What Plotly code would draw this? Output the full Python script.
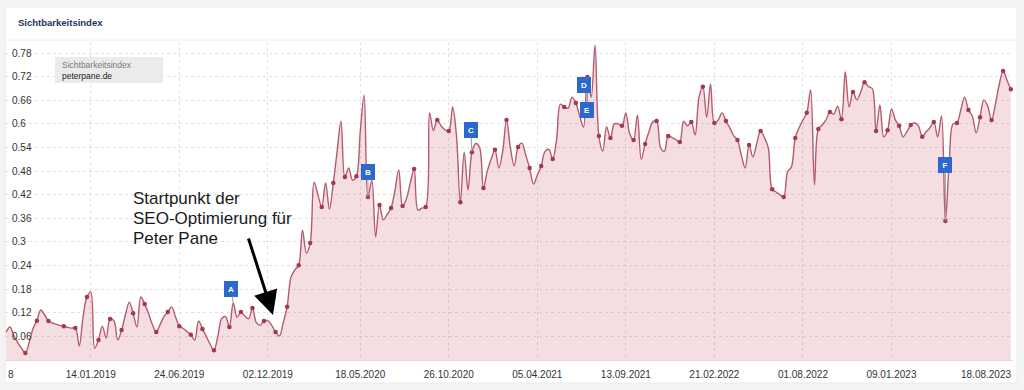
import plotly.graph_objects as go
import pandas as pd

# ---------------- data ----------------
START_DATE = "2018-08-13"          # weekly values start (Mondays)
X_RANGE = ["2018-08-11", "2023-08-18"]

VALUES = [
    0.071, 0.084, 0.062, 0.045, 0.030, 0.018, 0.045, 0.080, 0.100, 0.127,
    0.115, 0.099, 0.094, 0.091, 0.088, 0.086, 0.083, 0.081, 0.081, 0.036,
    0.110, 0.160, 0.173, 0.030, 0.051, 0.086, 0.056, 0.104, 0.100, 0.051,
    0.076, 0.115, 0.147, 0.119, 0.084, 0.160, 0.142, 0.118, 0.090, 0.071,
    0.090, 0.110, 0.122, 0.135, 0.110, 0.086, 0.080, 0.072, 0.064, 0.051,
    0.099, 0.079, 0.060, 0.040, 0.025, 0.060, 0.105, 0.110, 0.084, 0.145,
    0.109, 0.122, 0.112, 0.105, 0.132, 0.095, 0.088, 0.099, 0.100, 0.088,
    0.071, 0.061, 0.095, 0.135, 0.210, 0.229, 0.241, 0.330, 0.272, 0.297,
    0.452, 0.420, 0.389, 0.450, 0.383, 0.450, 0.530, 0.607, 0.465, 0.488,
    0.457, 0.467, 0.580, 0.673, 0.414, 0.457, 0.313, 0.394, 0.356, 0.370,
    0.386, 0.430, 0.483, 0.391, 0.410, 0.450, 0.485, 0.381, 0.386, 0.389,
    0.628, 0.583, 0.610, 0.595, 0.585, 0.582, 0.643, 0.570, 0.401, 0.528,
    0.432, 0.528, 0.550, 0.540, 0.437, 0.480, 0.510, 0.534, 0.488, 0.530,
    0.610, 0.540, 0.493, 0.541, 0.551, 0.520, 0.488, 0.447, 0.470, 0.493,
    0.530, 0.535, 0.511, 0.560, 0.650, 0.643, 0.640, 0.668, 0.653, 0.620,
    0.592, 0.719, 0.668, 0.800, 0.569, 0.531, 0.592, 0.564, 0.600, 0.600,
    0.595, 0.628, 0.575, 0.559, 0.622, 0.510, 0.549, 0.580, 0.605, 0.607,
    0.540, 0.530, 0.569, 0.565, 0.560, 0.554, 0.607, 0.595, 0.605, 0.572,
    0.668, 0.694, 0.617, 0.701, 0.602, 0.610, 0.628, 0.607, 0.590, 0.570,
    0.559, 0.520, 0.488, 0.546, 0.516, 0.550, 0.582, 0.565, 0.539, 0.434,
    0.427, 0.420, 0.414, 0.478, 0.490, 0.564, 0.590, 0.610, 0.628, 0.686,
    0.445, 0.587, 0.597, 0.610, 0.630, 0.625, 0.645, 0.612, 0.732, 0.643,
    0.681, 0.661, 0.680, 0.706, 0.695, 0.690, 0.582, 0.648, 0.567, 0.584,
    0.638, 0.610, 0.595, 0.567, 0.580, 0.597, 0.603, 0.595, 0.567, 0.580,
    0.590, 0.605, 0.567, 0.620, 0.353, 0.500, 0.600, 0.602, 0.635, 0.668,
    0.635, 0.620, 0.577, 0.617, 0.661, 0.645, 0.610, 0.650, 0.700, 0.734,
    0.711, 0.688,
]

DOT_IDX = [5, 8, 11, 15, 18, 21, 24, 27, 30, 33, 36, 39, 42, 45, 48, 51, 54,
           58, 61, 64, 67, 70, 73, 76, 79, 82, 85, 88, 91, 94, 97, 100, 103,
           106, 109, 112, 115, 118, 121, 124, 127, 130, 133, 136, 139, 142,
           145, 148, 151, 154, 157, 160, 163, 166, 169, 172, 175, 178, 181,
           184, 187, 190, 193, 196, 199, 202, 205, 208, 211, 214, 217, 220,
           223, 226, 229, 232, 235, 238, 241, 244, 247, 250, 253, 256, 259, 261]

EVENT_LABELS = ["A", "B", "C", "E", "D", "F"]
EVENT_IDX = [59, 94, 121, 151, 151, 244]

TICK_DATES = ["2019-01-14", "2019-06-24", "2019-12-02", "2020-05-18",
              "2020-10-26", "2021-04-05", "2021-09-13", "2022-02-21",
              "2022-08-01", "2023-01-09", "2023-08-18"]
TICK_LABELS = ["14.01.2019", "24.06.2019", "02.12.2019", "18.05.2020",
               "26.10.2020", "05.04.2021", "13.09.2021", "21.02.2022",
               "01.08.2022", "09.01.2023", "18.08.2023"]

Y_TICKS = [0.06, 0.12, 0.18, 0.24, 0.30, 0.36, 0.42, 0.48, 0.54, 0.60, 0.66, 0.72, 0.78]
Y_LABELS = ["0.06", "0.12", "0.18", "0.24", "0.3", "0.36", "0.42", "0.48",
            "0.54", "0.6", "0.66", "0.72", "0.78"]
Y_RANGE = [0, 0.808]

TITLE = "Sichtbarkeitsindex"
LEGEND_LINE1 = "Sichtbarkeitsindex"
LEGEND_LINE2 = "peterpane.de"
NOTE_LINES = ["Startpunkt der", "SEO-Optimierung für", "Peter Pane"]

# ---------------- layout helpers ----------------
W, H = 1024, 390
ML, MR, MT, MB = 5, 11, 42, 30
PW, PH = W - ML - MR, H - MT - MB


def PX(x):
    return (x - ML) / PW


def PY(y):
    return (H - MB - y) / PH


FONT = "Liberation Sans, Arial, Helvetica, sans-serif"

dates = pd.date_range(START_DATE, periods=len(VALUES), freq="7D")

fig = go.Figure()
fig.add_trace(go.Scatter(
    x=dates, y=VALUES, mode="lines",
    line=dict(color="#b75a6e", width=1.4, shape="spline", smoothing=1),
    fill="tozeroy", fillcolor="rgba(190,60,85,0.17)",
    hoverinfo="skip", showlegend=False,
))
fig.add_trace(go.Scatter(
    x=[dates[i] for i in DOT_IDX], y=[VALUES[i] for i in DOT_IDX],
    mode="markers", marker=dict(size=4.5, color="#a5384f"),
    hoverinfo="skip", showlegend=False,
))

shapes = [
    dict(type="rect", xref="paper", yref="paper", x0=PX(5), x1=PX(1017),
         y0=PY(383), y1=PY(7), fillcolor="white",
         line=dict(color="#eaeaea", width=1), layer="below"),
    dict(type="line", xref="paper", yref="paper", x0=PX(5), x1=PX(1017),
         y0=PY(40), y1=PY(40), line=dict(color="#eeeeee", width=1), layer="below"),
    dict(type="rect", xref="paper", yref="paper", x0=PX(55), x1=PX(163),
         y0=PY(83), y1=PY(57), fillcolor="#ebebeb",
         line=dict(width=0), layer="above"),
]

ann = []
ann.append(dict(text="<b>" + TITLE + "</b>", xref="paper", yref="paper",
                x=PX(16), y=PY(23), xanchor="left", yanchor="middle",
                showarrow=False, font=dict(family=FONT, size=9.5, color="#1e335c")))
ann.append(dict(text=LEGEND_LINE1, xref="paper", yref="paper",
                x=PX(60), y=PY(65), xanchor="left", yanchor="middle",
                showarrow=False, font=dict(family=FONT, size=8.5, color="#7a7a7a")))
ann.append(dict(text=LEGEND_LINE2, xref="paper", yref="paper",
                x=PX(60), y=PY(76), xanchor="left", yanchor="middle",
                showarrow=False, font=dict(family=FONT, size=8.5, color="#222222")))
for k, line in enumerate(NOTE_LINES):
    ann.append(dict(text=line, xref="paper", yref="paper",
                    x=PX(131), y=PY(198 + 20 * k), xanchor="left", yanchor="middle",
                    showarrow=False, font=dict(family=FONT, size=17, color="#1a1a1a")))
ann.append(dict(text="", xref="paper", yref="paper", x=PX(273), y=PY(315),
                ax=-25, ay=-78, showarrow=True, arrowhead=2, arrowsize=1.6,
                arrowwidth=3, arrowcolor="#000000"))
# edge tick labels
ann.append(dict(text="8", xref="paper", yref="paper", x=PX(6), y=PY(374),
                xanchor="left", yanchor="middle", showarrow=False,
                font=dict(family=FONT, size=10, color="#333333")))
ann.append(dict(text=TICK_LABELS[-1], xref="paper", yref="paper", x=PX(1013), y=PY(374),
                xanchor="right", yanchor="middle", showarrow=False,
                font=dict(family=FONT, size=10, color="#333333")))

offsets = {"A": (-2, -14), "B": (0, -25), "C": (-1, -22), "D": (-3, 8), "E": (0, 33), "F": (0, -56)}
for lab, idx in zip(EVENT_LABELS, EVENT_IDX):
    ax, ay = offsets[lab]
    ann.append(dict(text="<b>" + lab + "</b>", x=dates[idx], y=VALUES[idx],
                    xref="x", yref="y", ax=ax, ay=ay, showarrow=True,
                    arrowhead=0, arrowwidth=1, arrowcolor="#9a9a9a",
                    font=dict(family=FONT, size=8, color="white"),
                    bgcolor="#2d68cc", bordercolor="#2d68cc", borderwidth=1,
                    borderpad=1, width=10, height=12))

fig.update_layout(
    width=W, height=H,
    margin=dict(l=ML, r=MR, t=MT, b=MB, pad=0),
    paper_bgcolor="#f4f4f4", plot_bgcolor="rgba(0,0,0,0)",
    font=dict(family=FONT, size=10, color="#333333"),
    shapes=shapes, annotations=ann, showlegend=False,
    xaxis=dict(type="date", range=X_RANGE, tickvals=TICK_DATES,
               ticktext=TICK_LABELS[:-1] + [""], showgrid=True,
               gridcolor="#e2e2e2", griddash="3px,3px", gridwidth=1,
               showline=True, linecolor="#dddddd", linewidth=1,
               ticks="", ticklabelstandoff=5, zeroline=False, fixedrange=True,
               tickfont=dict(family=FONT, size=10, color="#333333")),
    yaxis=dict(range=Y_RANGE, tickvals=Y_TICKS, ticktext=Y_LABELS,
               ticklabelposition="inside", ticklabelstandoff=4, showgrid=True,
               gridcolor="#e2e2e2", griddash="3px,3px", gridwidth=1,
               ticks="", zeroline=False, showline=False, fixedrange=True,
               tickfont=dict(family=FONT, size=10, color="#333333")),
)

fig.write_html("out.html")
